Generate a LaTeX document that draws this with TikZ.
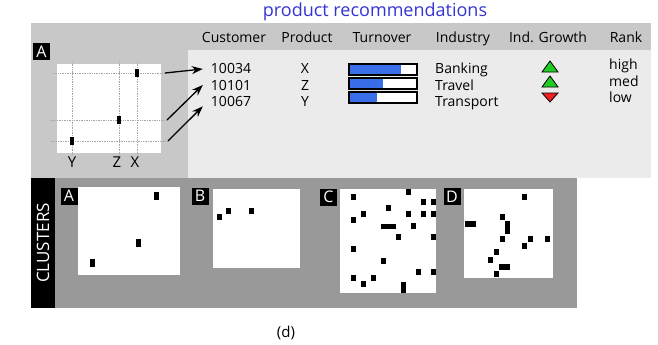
\documentclass[tikz,border=0pt]{standalone}
\usepackage{fontspec}
\setmainfont{Open Sans}
\usetikzlibrary{arrows.meta}

\definecolor{cabecera}{HTML}{C8C8C8}
\definecolor{fondo}{HTML}{EBEBEB}
\definecolor{panel}{HTML}{999999}
\definecolor{barra}{HTML}{3A6EE8}
\definecolor{azultit}{HTML}{3434D2}
\definecolor{verde}{HTML}{22CC22}
\definecolor{rojo}{HTML}{EE2222}

\tikzset{
  etiq/.style={fill=black, text=white, inner sep=0pt, minimum size=17pt,
    font=\fontsize{16}{16}\selectfont},
  hdr/.style={anchor=base, inner sep=0pt, font=\fontsize{14}{14}\selectfont},
  celda/.style={anchor=base, inner sep=0pt, font=\fontsize{14}{14}\selectfont},
  celdaw/.style={celda, anchor=base west},
  rejilla/.style={gray!70, densely dotted, line width=0.7pt},
  flecha/.style={-{Stealth[length=11pt,width=8pt]}, line width=1.3pt},
  tri/.style={draw=black, line width=0.8pt},
}

\begin{document}
\begin{tikzpicture}[x=1pt,y=-1pt]
    \useasboundingbox (0,0) rectangle (658,345);

    % Titulo
    \node[text=azultit, anchor=base, inner sep=0pt, font=\fontsize{18}{18}\selectfont] (tit) at (375,17) {product recommendations};

    % Paneles
    \fill[cabecera] (31,23) rectangle (651,178);
    \fill[fondo] (188,50) rectangle (651,178);
    \fill[panel] (31,178) rectangle (577,308);
    \fill[black] (31,178) rectangle (55,308);

    % Grafico A
    \node[etiq] (la) at (41.5,51.5) {A};
    \fill[white] (57,64) rectangle (161,153);
    \draw[rejilla] (53,73) -- (165,73) coordinate (gx);
    \draw[rejilla] (50,120) -- (167,120) coordinate (gz);
    \draw[rejilla] (51,141) -- (168,141) coordinate (gy);
    \draw[rejilla] (72,62) -- (72,154);
    \draw[rejilla] (119,62) -- (119,154);
    \draw[rejilla] (137,62) -- (137,154);
    \fill (135,69) rectangle ++(4,8);
    \fill (117,116) rectangle ++(4,8);
    \fill (70,137) rectangle ++(4,8);
    \node[hdr, font=\fontsize{15}{15}\selectfont] (ey) at (72,167) {Y};
    \node[hdr, font=\fontsize{15}{15}\selectfont] (ez) at (117,167) {Z};
    \node[hdr, font=\fontsize{15}{15}\selectfont] (ex) at (135,167) {X};

    % Cabecera
    \node[hdr] (h1) at (234,42) {Customer};
    \node[hdr] (h2) at (307,42) {Product};
    \node[hdr] (h3) at (382,42) {Turnover};
    \node[hdr] (h4) at (463,42) {Industry};
    \node[hdr] (h5) at (548,42) {Ind. Growth};
    \node[hdr] (h6) at (626,42) {Rank};

    % Filas
    \node[celda] (c1) at (231,74) {10034};
    \node[celda] (c2) at (231,90) {10101};
    \node[celda] (c3) at (231,106) {10067};
    \node[celda] (p1) at (305,74) {X};
    \node[celda] (p2) at (305,90) {Z};
    \node[celda] (p3) at (305,106) {Y};
    \node[celdaw] (i1) at (435,74) {Banking};
    \node[celdaw] (i2) at (435,90) {Travel};
    \node[celdaw] (i3) at (435,106) {Transport};
    \node[celdaw] (r1) at (609,70) {high};
    \node[celdaw] (r2) at (609,86) {med};
    \node[celdaw] (r3) at (609,102) {low};

    % Barras de turnover
    \fill[white] (349,64) rectangle (417,75);
    \fill[barra] (349,64) rectangle (401,75);
    \draw[line width=1.2pt] (349,64) rectangle (417,75);
    \fill[white] (349,78) rectangle (417,89);
    \fill[barra] (349,78) rectangle (383,89);
    \draw[line width=1.2pt] (349,78) rectangle (417,89);
    \fill[white] (349,92) rectangle (417,103);
    \fill[barra] (349,92) rectangle (377,103);
    \draw[line width=1.2pt] (349,92) rectangle (417,103);

    % Triangulos
    \filldraw[tri, fill=verde] (542,72) -- (558,72) -- (550,61) -- cycle;
    \filldraw[tri, fill=verde] (542,87) -- (558,87) -- (550,76) -- cycle;
    \filldraw[tri, fill=rojo] (542,93) -- (558,93) -- (550,102) -- cycle;

    % Flechas
    \draw[flecha] (gx) -- ([xshift=-8pt]c1.west);
    \draw[flecha] (gz) -- ([xshift=-8pt]c2.west);
    \draw[flecha] (gy) -- ([xshift=-8pt]c3.south west);

    % Clusters
    \node[rotate=90, text=white, inner sep=0pt, font=\fontsize{17}{17}\selectfont] (cl) at (43,243) {CLUSTERS};

    \node[etiq] (ca) at (69,196) {A};
    \fill[white] (78,187) rectangle (180,275);
    \foreach \x/\y in {156/196, 138/243, 92/263}
        \fill (\x-2.5,\y-4) rectangle ++(5,8);

    \node[etiq] (cb) at (200,196) {B};
    \fill[white] (213,189) rectangle (300,268);
    \foreach \x/\y in {219/217, 228/211, 251/211}
        \fill (\x-2.5,\y-3) rectangle ++(5,6);

    \node[etiq] (cc) at (328.5,197) {C};
    \fill[white] (340,189) rectangle (436,293);
    \foreach \x/\y in {353/197, 408/192, 423/202, 433/202, 388/208, 363/214,
        408/214, 423/214, 433/214, 353/220, 413/226, 398/237, 433/237, 353/249,
        383/261, 418/272, 433/272, 353/278, 373/278, 363/284}
        \fill (\x-2.5,\y-3) rectangle ++(5,6);
    \fill (381,223.5) rectangle (396,228.5);
    \fill (401,282) rectangle (406,293);

    \node[etiq] (cd) at (452,196.5) {D};
    \fill[white] (464,189) rectangle (553,278);
    \foreach \x/\y in {524/197, 502/217, 502/239, 530/239, 547/239, 524/246,
        496/252, 490/260, 496/274}
        \fill (\x-2.5,\y-3) rectangle ++(5,6);
    \fill (465,221) rectangle (476,227);
    \fill (505,221) rectangle (510,234);
    \fill (499,264) rectangle (510,270);

    % Pie
    \node[hdr, font=\fontsize{15}{15}\selectfont] (pie) at (286,337) {(d)};
\end{tikzpicture}
\end{document}
